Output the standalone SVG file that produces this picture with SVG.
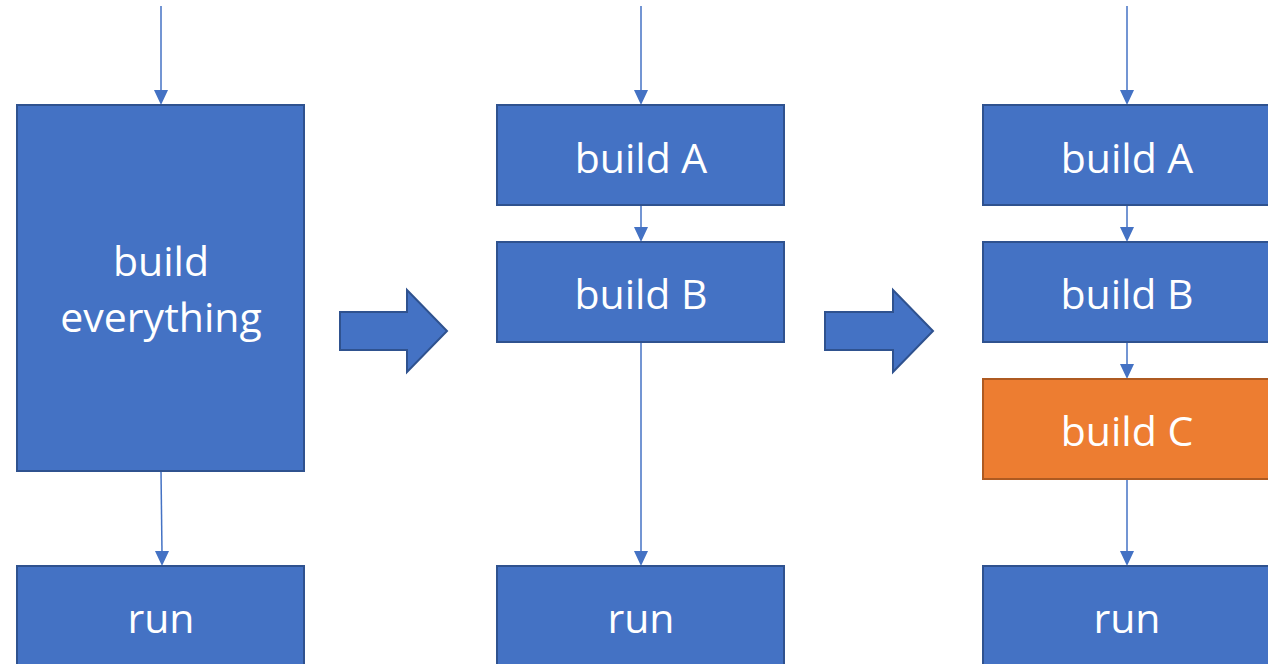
<svg xmlns="http://www.w3.org/2000/svg" width="1268" height="664" viewBox="0 0 1268 664">
<defs>
<style>
.box{fill:#4472C4;stroke:#2F528F;stroke-width:2}
.orange{fill:#ED7D31;stroke:#AE5A21;stroke-width:2}
.lbl{font-family:"Open Sans","Noto Sans",sans-serif;font-size:41px;fill:#FFFFFF;text-anchor:middle}
.conn{stroke:#4472C4;stroke-width:1.5;fill:none}
.ahd{fill:#4472C4}
.big{fill:#4472C4;stroke:#2F528F;stroke-width:2;stroke-linejoin:miter}
</style>
</defs>
<rect width="1268" height="664" fill="#FFFFFF"/>
<g id="connectors">
<line class="conn" x1="161" y1="6" x2="161" y2="92"/>
<path class="ahd" d="M154,90 L168,90 L161,105 Z"/>
<line class="conn" x1="161" y1="471" x2="162" y2="553"/>
<path class="ahd" d="M155,551 L169,551 L162,566 Z"/>
<line class="conn" x1="641" y1="6" x2="641" y2="92"/>
<path class="ahd" d="M634,90 L648,90 L641,105 Z"/>
<line class="conn" x1="641" y1="206" x2="641" y2="229"/>
<path class="ahd" d="M634,227 L648,227 L641,242 Z"/>
<line class="conn" x1="641" y1="342" x2="641" y2="553"/>
<path class="ahd" d="M634,551 L648,551 L641,566 Z"/>
<line class="conn" x1="1127" y1="6" x2="1127" y2="92"/>
<path class="ahd" d="M1120,90 L1134,90 L1127,105 Z"/>
<line class="conn" x1="1127" y1="206" x2="1127" y2="229"/>
<path class="ahd" d="M1120,227 L1134,227 L1127,242 Z"/>
<line class="conn" x1="1127" y1="342" x2="1127" y2="366"/>
<path class="ahd" d="M1120,364 L1134,364 L1127,379 Z"/>
<line class="conn" x1="1127" y1="479" x2="1127" y2="553"/>
<path class="ahd" d="M1120,551 L1134,551 L1127,566 Z"/>
</g>
<g id="bigarrow1"><path class="big" d="M340,312 L407,312 L407,290 L447,331 L407,372 L407,350 L340,350 Z"/></g>
<g id="bigarrow2"><path class="big" d="M825,312 L893,312 L893,290 L933,331 L893,372 L893,350 L825,350 Z"/></g>
<g id="build-everything">
<rect class="box" x="17" y="105" width="287" height="366"/>
<text class="lbl" x="161" y="276">build</text>
<text class="lbl" x="161" y="332">everything</text>
</g>
<g id="run1">
<rect class="box" x="17" y="566" width="287" height="110"/>
<text class="lbl" x="161" y="633">run</text>
</g>
<g id="buildA2">
<rect class="box" x="497" y="105" width="287" height="100"/>
<text class="lbl" x="641" y="173">build A</text>
</g>
<g id="buildB2">
<rect class="box" x="497" y="242" width="287" height="100"/>
<text class="lbl" x="641" y="309">build B</text>
</g>
<g id="run2">
<rect class="box" x="497" y="566" width="287" height="110"/>
<text class="lbl" x="641" y="633">run</text>
</g>
<g id="buildA3">
<rect class="box" x="983" y="105" width="300" height="100"/>
<text class="lbl" x="1127" y="173">build A</text>
</g>
<g id="buildB3">
<rect class="box" x="983" y="242" width="300" height="100"/>
<text class="lbl" x="1127" y="309">build B</text>
</g>
<g id="buildC3">
<rect class="orange" x="983" y="379" width="300" height="100"/>
<text class="lbl" x="1127" y="446">build C</text>
</g>
<g id="run3">
<rect class="box" x="983" y="566" width="300" height="110"/>
<text class="lbl" x="1127" y="633">run</text>
</g>
</svg>
